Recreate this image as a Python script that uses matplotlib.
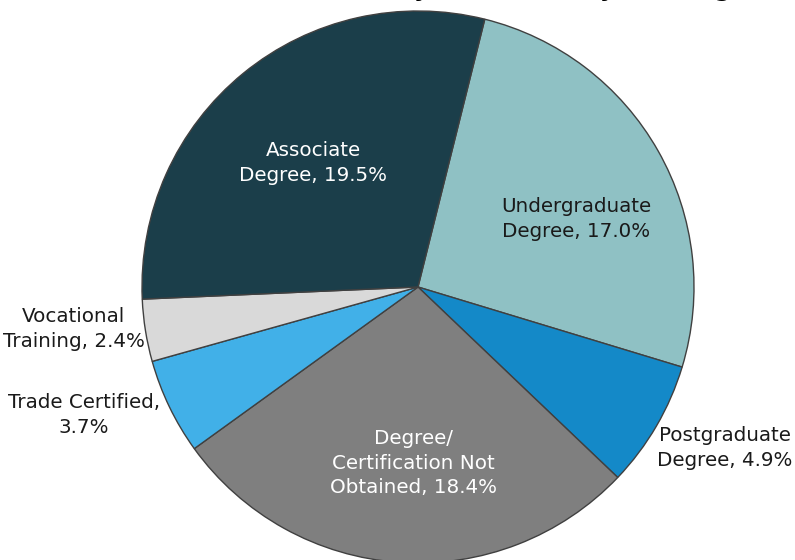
import numpy as np
import matplotlib
matplotlib.use('Agg')
import matplotlib.pyplot as plt

plt.rcParams['font.family'] = ['DejaVu Sans']

# data, clockwise from the top
labels = ['Undergraduate\nDegree', 'Postgraduate\nDegree', 'Degree/\nCertification Not\nObtained',
          'Trade Certified,\n', 'Vocational\nTraining', 'Associate\nDegree']
values = [17.0, 4.9, 18.4, 3.7, 2.4, 19.5]
colors = ['#8fc1c4', '#1489c8', '#7f7f7f', '#41b0e8', '#d9d9d9', '#1b3e4a']
text_colors = ['#1a1a1a', '#1a1a1a', 'white', '#1a1a1a', '#1a1a1a', 'white']
# NOTE: the reference's title is cut off at the top edge, only a few descenders
# (y .. y .. g) show, so this wording is a placeholder guess, not the real title
title = 'Share of Industry Workforce by Training Attainment'

# label spots in axes data units (pie radius = 1)
label_xy = [(0.572, 0.246), (1.112, -0.583), (-0.018, -0.638),
            (-1.210, -0.464), (-1.248, -0.152), (-0.380, 0.449)]

fig = plt.figure(figsize=(7.95, 5.6), dpi=100)
ax = fig.add_axes([142/795, -3/560, 552/795, 552/560])

wedges, _ = ax.pie(values, colors=colors, startangle=76, counterclock=False,
                   wedgeprops=dict(edgecolor='#404040', linewidth=1.0))
ax.set_xlim(-1, 1)
ax.set_ylim(-1, 1)
ax.set_aspect('equal')
ax.axis('off')
for w in wedges:
    w.set_clip_on(False)

for lab, v, (x, y), tc in zip(labels, values, label_xy, text_colors):
    if lab.endswith(',\n'):
        txt = lab + '{:.1f}%'.format(v)
    else:
        txt = lab + ', {:.1f}%'.format(v)
    ax.text(x, y, txt, ha='center', va='center', fontsize=14.3, color=tc,
            linespacing=1.35)

# title sits mostly above the figure, only the descenders show
fig.text(0.248, 1.0 + 3.8/560, title, ha='left', va='baseline',
         fontsize=17, fontweight='bold', color='black')

fig.savefig('out.png', dpi=100)
